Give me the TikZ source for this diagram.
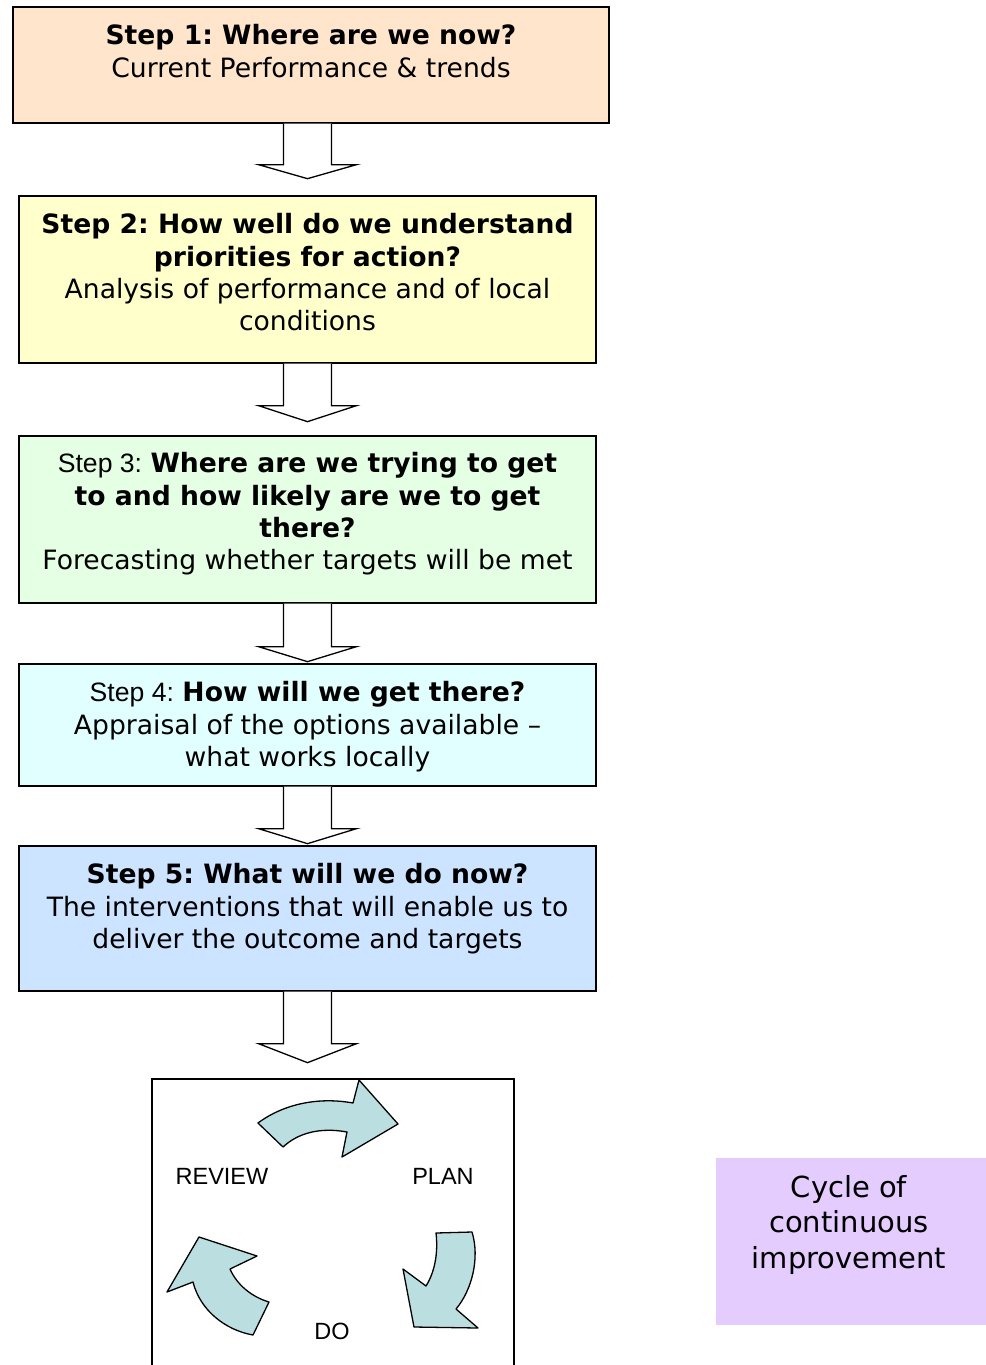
\documentclass[tikz,border=0pt]{standalone}
\usepackage{fontspec}
\setmainfont{DejaVu Sans}
\newfontfamily\arialfont{Liberation Sans}
\usetikzlibrary{positioning}
\frenchspacing

\definecolor{peachfill}{HTML}{FEE5CC}
\definecolor{yellowfill}{HTML}{FFFFCC}
\definecolor{greenfill}{HTML}{E4FFE4}
\definecolor{cyanfill}{HTML}{E2FFFF}
\definecolor{bluefill}{HTML}{CCE4FF}
\definecolor{lilacfill}{HTML}{E4CCFF}
\definecolor{cyclefill}{HTML}{BBDFE1}

\tikzset{
  stepbox/.style={draw, line width=1.3pt, minimum width=577pt, inner sep=0pt},
  steptext/.style={anchor=north, align=center, inner sep=0pt, font=\fontsize{26.6}{32.3}\selectfont},
  hollowarrow/.style={draw, fill=white, line width=1.3pt},
  cyclearrow/.style={draw, fill=cyclefill, line width=1.3pt, line join=round},
  cyclelabel/.style={font=\arialfont\fontsize{23.5}{28}\selectfont, inner sep=0pt}
}

% #1 start, #2 stem length, #3 head length
\newcommand{\blockdown}[3]{%
  \draw[hollowarrow] (#1) ++(-24,0) -- ++(0,#2) -- ++(-25,0) -- ++(49,#3) -- ++(49,-#3) -- ++(-25,0) -- ++(0,-#2);
}

\begin{document}
\begin{tikzpicture}[x=1pt, y=-1pt]
\useasboundingbox (0,0) rectangle (985,1365);

% the five steps
\node[stepbox, fill=peachfill, minimum width=596pt, minimum height=116pt] (s1) at (311,65) {};
\node[stepbox, fill=yellowfill, minimum height=167pt] (s2) at (307.5,279.5) {};
\node[stepbox, fill=greenfill, minimum height=167pt] (s3) at (307.5,519.5) {};
\node[stepbox, fill=cyanfill, minimum height=122pt] (s4) at (307.5,725) {};
\node[stepbox, fill=bluefill, minimum height=145pt] (s5) at (307.5,918.5) {};
\node[draw, line width=1.3pt, minimum width=362pt, minimum height=288pt, inner sep=0pt] (cycle) at (333,1223) {};
\node[fill=lilacfill, minimum width=274pt, minimum height=167pt, inner sep=0pt] (note) at (853,1241.5) {};

\node[steptext] (s1text) at ([yshift=-18pt]s1.north)
  {\textbf{Step 1: Where are we now?}\\ Current Performance \& trends};
\node[steptext] (s2text) at ([yshift=-18pt]s2.north)
  {\textbf{Step 2: How well do we understand}\\ \textbf{priorities for action?}\\ Analysis of performance and of local\\ conditions};
\node[steptext] (s3text) at ([yshift=-17pt]s3.north)
  {{\arialfont Step 3:} \textbf{Where are we trying to get}\\ \textbf{to and how likely are we to get}\\ \textbf{there?}\\ Forecasting whether targets will be met};
\node[steptext] (s4text) at ([yshift=-18pt]s4.north)
  {{\arialfont Step 4:} \textbf{How will we get there?}\\ Appraisal of the options available \textendash\\ what works locally};
\node[steptext] (s5text) at ([yshift=-18pt]s5.north)
  {\textbf{Step 5: What will we do now?}\\ The interventions that will enable us to\\ deliver the outcome and targets};
\node[steptext, font=\fontsize{29}{35.5}\selectfont] (notetext) at ([xshift=-4pt, yshift=-17pt]note.north)
  {Cycle of\\ continuous\\ improvement};

% arrows between the steps
\blockdown{s1.south -| s2.north}{41}{14}
\blockdown{s2.south -| s3.north}{42}{16}
\blockdown{s3.south -| s4.north}{43}{15}
\blockdown{s4.south -| s5.north}{42}{15}
\blockdown{s5.south}{52}{19}

% plan - do - review
\node[cyclelabel] (review) at (222,1176) {REVIEW};
\node[cyclelabel] (plan) at (443,1176) {PLAN};
\node[cyclelabel] (do) at (332,1331) {DO};

\draw[cyclearrow] (258,1123) .. controls (285,1103) and (320,1097) .. (353,1103)
  -- (359,1080) -- (398,1124) -- (342,1157) -- (347,1132)
  .. controls (320,1127) and (298,1133) .. (283,1147) -- cycle;
\draw[cyclearrow] (436,1233) -- (472,1232) .. controls (480,1258) and (472,1290) .. (456,1309)
  -- (478,1328) -- (414,1327) -- (403,1269) -- (426,1286)
  .. controls (436,1270) and (438,1250) .. (436,1233) -- cycle;
\draw[cyclearrow] (269,1302) -- (253,1335) .. controls (225,1330) and (200,1310) .. (193,1282)
  -- (167,1292) -- (199,1237) -- (257,1256) -- (230,1269)
  .. controls (237,1285) and (252,1297) .. (269,1302) -- cycle;

\end{tikzpicture}
\end{document}
